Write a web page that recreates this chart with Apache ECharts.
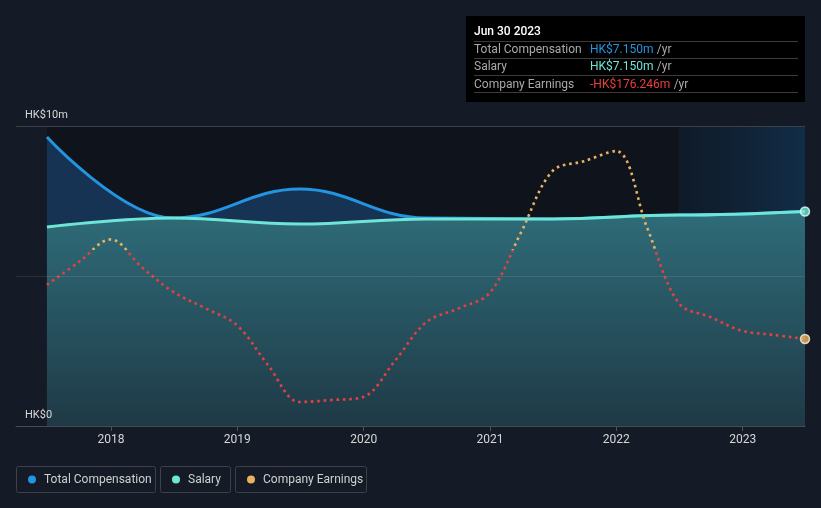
<!DOCTYPE html>
<html>
<head>
<meta charset="utf-8">
<script src="https://cdn.jsdelivr.net/npm/echarts@6/dist/echarts.min.js"></script>
<style>
html,body{margin:0;padding:0;background:#151b26;}
#chart{width:821px;height:508px;}
</style>
</head>
<body>
<div id="chart"></div>
<script>
// ---- data ----
const compDates = ['2017-06-30','2018-06-30','2019-06-30','2020-06-30','2021-06-30','2022-06-30','2023-06-30'];
const totalComp = [9.63, 6.93, 7.9, 6.93, 6.9, 7.03, 7.15];
const salary    = [6.63, 6.93, 6.73, 6.9, 6.9, 7.03, 7.15];
const earnDates = ['2017-06-30','2017-09-30','2017-12-31','2018-03-31','2018-06-30','2018-09-30','2018-12-31','2019-03-31','2019-06-30','2019-09-30','2019-12-31','2020-03-31','2020-06-30','2020-09-30','2020-12-31','2021-03-31','2021-06-30','2021-09-30','2021-12-31','2022-03-31','2022-06-30','2022-09-30','2022-12-31','2023-03-31','2023-06-30'];
const earnings  = [-69, -24, 21, -34, -83, -115, -149, -228, -301, -297, -291, -220, -143, -116, -85, 34, 156, 176, 196, 44, -105, -133, -160, -168, -176.246];
const yearTicks = [2018, 2019, 2020, 2021, 2022, 2023];
const yTickLabels = {0: 'HK$0', 10: 'HK$10m'};
const tooltipTitle = 'Jun 30 2023';
const highlightStart = '2022-06-30';
const seriesNames = ['Total Compensation', 'Salary', 'Company Earnings'];

const C_COMP = '#2394df', C_SAL = '#6fe6d5', C_POS = '#e9b260', C_NEG = '#e5403f';
const SMOOTH = 0.4;

function decYear(s) {
  const d = new Date(s + 'T00:00:00Z');
  const y = d.getUTCFullYear();
  const a = Date.UTC(y, 0, 1), b = Date.UTC(y + 1, 0, 1);
  return y + (d - a) / (b - a);
}
const compData = compDates.map((d, i) => [decYear(d), totalComp[i]]);
const salData = compDates.map((d, i) => [decYear(d), salary[i]]);
const earnData = earnDates.map((d, i) => [decYear(d), earnings[i]]);
const xStart = decYear(compDates[0]);
const xEnd = decYear(compDates[compDates.length - 1]);
const xMin = 2017.2484;

function fmtM(v) {
  return (v < 0 ? '-' : '') + 'HK$' + Math.abs(v).toFixed(3) + 'm';
}

const chart = echarts.init(document.getElementById('chart'), null, {renderer: 'canvas'});
const FONT = 'Roboto, "Noto Sans", sans-serif';

// tooltip + legend graphics
const lastI = totalComp.length - 1;
const rows = [
  [seriesNames[0], fmtM(totalComp[lastI]), C_COMP],
  [seriesNames[1], fmtM(salary[lastI]), C_SAL],
  [seriesNames[2], fmtM(earnings[earnings.length - 1]), C_NEG]
];
const tipChildren = [
  {type: 'rect', shape: {x: 466, y: 16, width: 339, height: 86}, style: {fill: '#000'}},
  {type: 'text', x: 474, y: 32, style: {text: tooltipTitle, fill: '#fff', font: '500 12px ' + FONT, verticalAlign: 'middle'}}
];
[41.5, 58.5, 75.5, 92.5].forEach(y => tipChildren.push({type: 'line', shape: {x1: 474, y1: y, x2: 798, y2: y}, style: {stroke: '#3b3b3b', lineWidth: 1}}));
rows.forEach((r, i) => {
  const y = 50 + i * 17.3;
  tipChildren.push({type: 'text', x: 474, y: y, style: {text: r[0], fill: '#a9a9a9', font: '12px ' + FONT, verticalAlign: 'middle'}});
  tipChildren.push({type: 'text', x: 590, y: y, style: {
    text: '{v|' + r[1] + '} {u|/yr}', verticalAlign: 'middle',
    rich: {v: {fill: r[2], font: '12px ' + FONT}, u: {fill: '#a9a9a9', font: '12px ' + FONT}}
  }});
});
const legBoxes = [
  {x: 16, w: 140, c: C_COMP, t: seriesNames[0]},
  {x: 160, w: 71, c: C_SAL, t: seriesNames[1]},
  {x: 235, w: 132, c: C_POS, t: seriesNames[2]}
];
const legChildren = [];
legBoxes.forEach(b => {
  legChildren.push({type: 'rect', shape: {x: b.x + 0.5, y: 466.5, width: b.w - 1, height: 26, r: 2}, style: {fill: 'none', stroke: '#3c414b', lineWidth: 1}});
  legChildren.push({type: 'circle', shape: {cx: b.x + 16, cy: 479.5, r: 4}, style: {fill: b.c}});
  legChildren.push({type: 'text', x: b.x + 28, y: 479.5, style: {text: b.t, fill: '#cfcfcf', font: '12px ' + FONT, verticalAlign: 'middle'}});
});

const option = {
  backgroundColor: '#151b26',
  animation: false,
  textStyle: {fontFamily: FONT},
  grid: {left: 16, right: 16, top: 126, bottom: 82, containLabel: false},
  xAxis: {
    type: 'value', min: xMin, max: xEnd,
    splitLine: {show: false},
    axisLine: {show: true, lineStyle: {color: '#464c56', width: 1}},
    axisTick: {show: true, customValues: yearTicks, length: 5, lineStyle: {color: '#4e545e'}},
    axisLabel: {customValues: yearTicks, color: '#d6d6d6', fontSize: 12, margin: 8, formatter: v => String(Math.round(v))}
  },
  yAxis: [
    {
      type: 'value', min: 0, max: 10, interval: 5, z: 10,
      axisLine: {show: false}, axisTick: {show: false},
      splitLine: {show: true, lineStyle: {color: ['#464c56', 'rgba(255,255,255,0.09)', '#3c4149'], width: 1}},
      axisLabel: {
        inside: true, margin: 9, align: 'left', verticalAlign: 'bottom', padding: [0, 0, 5, 0],
        color: '#d8d8d8', fontSize: 11,
        formatter: v => yTickLabels[v] || ''
      }
    },
    {type: 'value', min: -348.5, max: 245.6, show: false, splitLine: {show: false}}
  ],
  visualMap: {
    type: 'piecewise', show: false, seriesIndex: 6, dimension: 1,
    pieces: [{gte: -400, lt: 0, color: C_NEG}, {gte: 0, lte: 300, color: C_POS}]
  },
  series: [
    { // 0 plot background
      type: 'line', data: [], z: 0, silent: true,
      markArea: {silent: true, itemStyle: {color: '#0f131b'}, data: [[{xAxis: xStart, yAxis: 0}, {xAxis: xEnd, yAxis: 10}]]}
    },
    { // 1 total comp area
      type: 'line', data: compData, smooth: SMOOTH, smoothMonotone: 'x', showSymbol: false, z: 1, silent: true,
      lineStyle: {width: 0}, areaStyle: {color: 'rgba(30,92,152,0.45)', opacity: 1}
    },
    { // 2 salary area
      type: 'line', data: salData, smooth: SMOOTH, smoothMonotone: 'x', showSymbol: false, z: 1, silent: true,
      lineStyle: {width: 0},
      areaStyle: {opacity: 1, color: {type: 'linear', x: 0, y: 0, x2: 0, y2: 1, colorStops: [{offset: 0, color: '#2f6c79'}, {offset: 1, color: '#1f3946'}]}}
    },
    { // 3 highlight band
      type: 'line', data: [], z: 2, silent: true,
      markArea: {silent: true,
        itemStyle: {opacity: 1, color: {type: 'linear', x: 0, y: 0, x2: 1, y2: 0, colorStops: [{offset: 0, color: 'rgba(22,110,185,0.08)'}, {offset: 0.5, color: 'rgba(22,110,185,0.17)'}, {offset: 1, color: 'rgba(22,110,185,0.28)'}]}},
        data: [[{xAxis: decYear(highlightStart), yAxis: 0}, {xAxis: xEnd, yAxis: 10}]]}
    },
    { // 4 total comp line
      name: seriesNames[0], type: 'line', data: compData, smooth: SMOOTH, smoothMonotone: 'x', showSymbol: false, z: 3,
      lineStyle: {color: C_COMP, width: 3}
    },
    { // 5 salary line
      name: seriesNames[1], type: 'line', data: salData, smooth: SMOOTH, smoothMonotone: 'x', showSymbol: false, z: 4,
      lineStyle: {color: C_SAL, width: 3}
    },
    { // 6 earnings
      name: seriesNames[2], type: 'line', data: earnData, yAxisIndex: 1, smooth: 0.35, showSymbol: false, z: 5,
      lineStyle: {width: 2.6, type: [2.6, 3.8]}
    },
    { // 7 end markers salary
      type: 'scatter', data: [salData[salData.length - 1]], symbolSize: 9, z: 6, clip: true,
      itemStyle: {color: C_SAL, borderColor: '#e8fffb', borderWidth: 1.5}
    },
    { // 8 end marker earnings
      type: 'scatter', yAxisIndex: 1, data: [earnData[earnData.length - 1]], symbolSize: 9, z: 6, clip: true,
      itemStyle: {color: C_POS, borderColor: '#fff4e0', borderWidth: 1.5}
    }
  ],
  graphic: [
    {type: 'group', children: tipChildren, z: 100},
    {type: 'group', children: legChildren, z: 100}
  ]
};
chart.setOption(option);
</script>
</body>
</html>
